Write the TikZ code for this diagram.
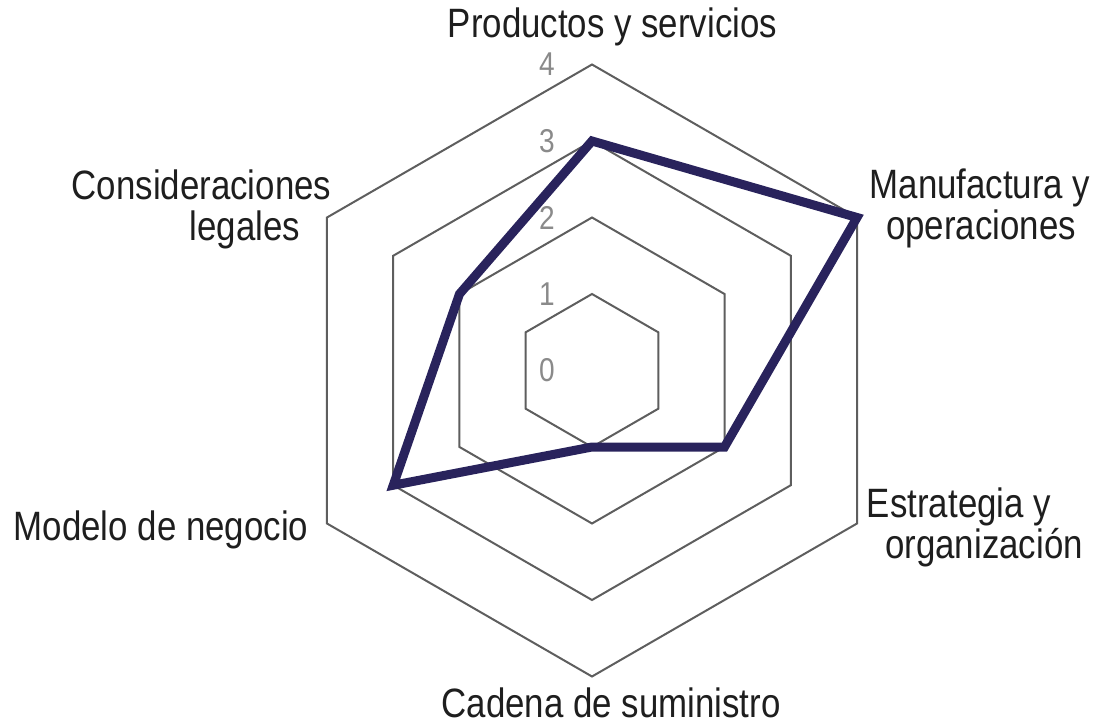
\documentclass[tikz,border=0pt]{standalone}
\usepackage{fontspec}
\setmainfont{Liberation Sans}[FakeStretch=0.85]
\definecolor{gridgray}{HTML}{5E5E5E}
\definecolor{numgray}{HTML}{8A8A8A}
\definecolor{navy}{HTML}{29235C}
\definecolor{txt}{HTML}{1E1E1E}
\tikzset{
  grid hex/.style={draw=gridgray, line width=2pt, line join=miter},
  data line/.style={draw=navy, line width=9pt, line join=miter, miter limit=10},
  axis label/.style={anchor=base, text=txt, font=\fontsize{41}{43}\selectfont, inner sep=0pt},
  level label/.style={anchor=center, text=numgray, font=\fontsize{33}{35}\selectfont, inner sep=0pt}
}
\begin{document}
\begin{tikzpicture}[x=1pt,y=1pt]
\useasboundingbox (-592,-354.5) rectangle (507,370.5);
\def\u{76.5}
% grid hexagons
\foreach \k in {1,2,3,4}{
  \draw[grid hex] (90:\k*\u) -- (30:\k*\u) -- (-30:\k*\u) -- (-90:\k*\u) -- (-150:\k*\u) -- (150:\k*\u) -- cycle;
}
% level labels
\foreach \k in {0,1,2,3,4}{
  \node[level label] (lv\k) at (-45,\k*\u) {\k};
}
% data points
\coordinate (pP) at (90:3*\u);
\coordinate (pM) at (30:4*\u);
\coordinate (pE) at (-30:2*\u);
\coordinate (pC) at (-90:1*\u);
\coordinate (pMo) at (-150:3*\u);
\coordinate (pCo) at (150:2*\u);
\draw[data line] (pP) -- (pM) -- (pE) -- (pC) -- (pMo) -- (pCo) -- cycle;
% axis labels
\node[axis label] (lP) at (20.5,333) {Productos y servicios};
\node[axis label] (lM1) at (388,171.5) {Manufactura y};
\node[axis label] (lM2) at (389,130.5) {operaciones};
\node[axis label] (lE1) at (367,-146.5) {Estrategia y};
\node[axis label] (lE2) at (392,-187.5) {organización};
\node[axis label] (lC) at (19,-346.5) {Cadena de suministro};
\node[axis label] (lMo) at (-431,-169.5) {Modelo de negocio};
\node[axis label] (lCo1) at (-390.5,170.5) {Consideraciones};
\node[axis label] (lCo2) at (-347,129.5) {legales};
\end{tikzpicture}
\end{document}
